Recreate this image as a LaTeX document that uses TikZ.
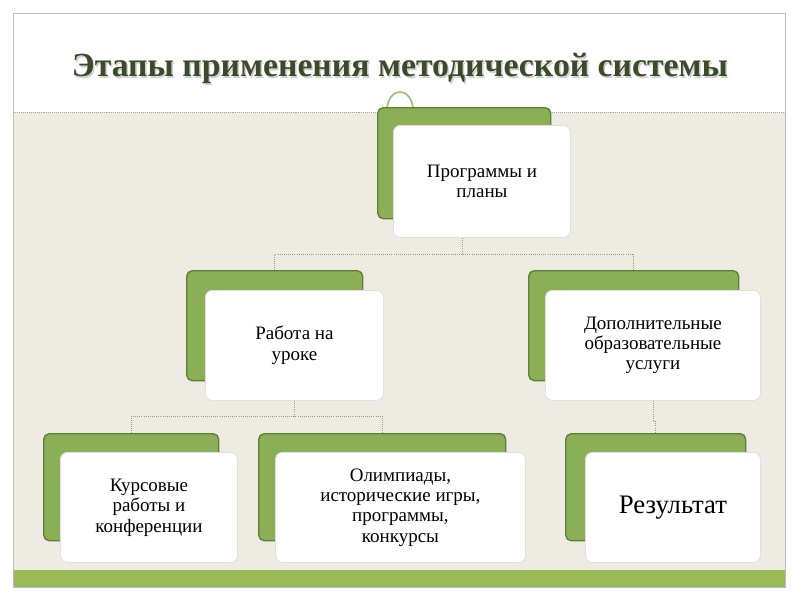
\documentclass[tikz,border=0pt]{standalone}
\usepackage{fontspec}
\setmainfont{Liberation Serif}
\usepackage{tikz}
\usetikzlibrary{calc}
\definecolor{pagebeige}{HTML}{EEEBE2}
\definecolor{leafgreen}{HTML}{8BAF57}
\definecolor{darkleaf}{HTML}{5F7F36}
\definecolor{bandgreen}{HTML}{9BBB59}
\definecolor{titlegreen}{HTML}{3A4A2A}

\begin{document}
\begin{tikzpicture}[x=0.025cm,y=-0.025cm]
  \tikzstyle{back}=[draw=darkleaf,line width=1pt,fill=leafgreen,rounded corners=4pt,anchor=north west,inner sep=0pt]
  \tikzstyle{front}=[draw=black!12,line width=0.6pt,fill=white,rounded corners=5pt,anchor=north west,inner sep=2pt,align=center,font=\fontsize{13.5}{14.5}\selectfont]
  \tikzstyle{link}=[densely dotted,draw=darkleaf!70,line width=0.5pt]
  \useasboundingbox (0,0) rectangle (800,600);
  \fill[white] (0,0) rectangle (800,600);
  % page
  \fill[pagebeige] (13,112) rectangle (785,570);
  \fill[bandgreen] (13,570) rectangle (785,587);
  \draw[black!25] (13,13) rectangle (785,587);
  \draw[densely dotted,black!35] (13,112) -- (785,112);
  \node[font=\fontsize{24}{28}\selectfont\bfseries,text=black!18] at (401.5,70) {Этапы применения методической системы};
  \node[font=\fontsize{24}{28}\selectfont\bfseries,text=titlegreen] (title) at (400,68) {Этапы применения методической системы};
  \draw[leafgreen!80,line width=1.2pt] (387,110) arc (180:360:13 and 18);
  % boxes
  \foreach \n/\x/\y/\w/\h in {top/377/107/173/111, work/186/270/176/110, extra/528/270/210/110,
                              kurs/43/433/175/107, olymp/258/433/247/107, res/565/433/180/107} {
    \node[back,minimum width=\w*0.025cm,minimum height=\h*0.025cm] (g\n) at (\x,\y) {};
  }
  \node[front,minimum width=177*0.025cm,minimum height=112*0.025cm] (top) at (393,125) {Программы и\\планы};
  \node[front,minimum width=178*0.025cm,minimum height=110*0.025cm] (work) at (205,290) {Работа на\\уроке};
  \node[front,minimum width=215*0.025cm,minimum height=110*0.025cm] (extra) at (545,290) {Дополнительные\\образовательные\\услуги};
  \node[front,minimum width=177*0.025cm,minimum height=110*0.025cm] (kurs) at (60,452) {Курсовые\\работы и\\конференции};
  \node[front,minimum width=250*0.025cm,minimum height=110*0.025cm] (olymp) at (275,452) {Олимпиады,\\исторические игры,\\программы,\\конкурсы};
  \node[front,minimum width=175*0.025cm,minimum height=110*0.025cm,font=\fontsize{19}{20}\selectfont] (res) at (585,452) {Результат};
  % links
  \draw[link] ([xshift=-0.5cm]top.south) -- ++(0,16) coordinate (tj);
  \draw[link] (gwork.north) |- (tj) -| (gextra.north);
  \draw[link] (work.south) -- ++(0,15) coordinate (wj);
  \draw[link] (gkurs.north) |- (wj) -| (golymp.north);
  \draw[link] (extra.south) -- ++(0,20) -| (gres.north);
\end{tikzpicture}
\end{document}
